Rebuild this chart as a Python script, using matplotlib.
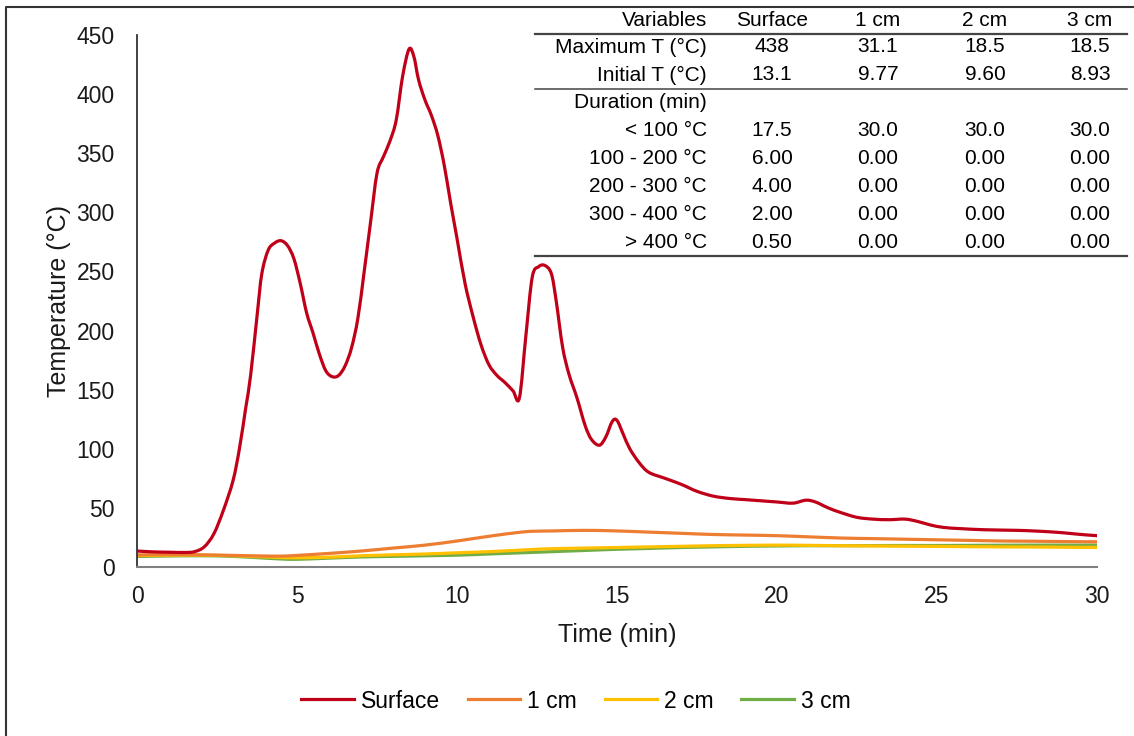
import matplotlib
matplotlib.use("Agg")
import matplotlib.pyplot as plt
import numpy as np
from matplotlib.lines import Line2D
from matplotlib.path import Path
from matplotlib.patches import PathPatch

plt.rcParams['font.family'] = ['Liberation Sans', 'DejaVu Sans']

# surface temperature
t_surf = [0, 0.5, 1.0, 1.5, 1.8, 2.1, 2.4, 2.7, 3.0, 3.2, 3.4, 3.55, 3.75, 3.9,
          4.1, 4.3, 4.5, 4.7, 4.9, 5.1, 5.3, 5.5, 5.7, 5.9, 6.1, 6.3, 6.5, 6.7,
          6.9, 7.1, 7.3, 7.5, 7.7, 7.9, 8.1, 8.3, 8.5, 8.65, 8.8, 9.0, 9.2, 9.4,
          9.6, 9.8, 10.0, 10.25, 10.5, 10.75, 11.0, 11.25, 11.5, 11.75, 11.95,
          12.15, 12.35, 12.55, 12.75, 12.95, 13.1, 13.3, 13.5, 13.75, 14.0, 14.2,
          14.45, 14.65, 14.85, 15.0, 15.2, 15.4, 15.7, 16.0, 16.5, 17.0, 17.5,
          18.0, 18.5, 19.0, 19.5, 20.0, 20.5, 20.9, 21.2, 21.6, 22.0, 22.5, 23.0,
          23.5, 24.0, 24.4, 24.8, 25.2, 25.7, 26.5, 27.5, 28.0, 28.5, 29.0, 29.5,
          30.0]
surface = [13.5, 12.8, 12.5, 12.3, 13, 17, 28, 48, 73, 100, 135, 162, 212, 248,
           268, 274, 276, 272, 261, 240, 215, 198, 180, 166, 161, 162, 170, 185,
           210, 250, 292, 333, 347, 360, 378, 415, 438, 432, 412, 395, 382, 365,
           340, 308, 278, 240, 212, 188, 171, 162, 156, 149, 143,
           195, 245, 254, 255, 248, 225, 186, 163, 143, 120, 108,
           103, 110, 123, 124, 112, 100, 88, 80, 75, 70, 64,
           60, 58, 57, 56, 55, 54, 56.5, 55, 50, 46, 42, 40.5,
           40, 40.5, 38.5, 35.5, 33.5, 32.5, 31.5, 31, 30.5, 29.8, 28.8, 27.5,
           26.5]

t_depth = [0, 1, 2, 3, 4, 4.5, 5, 6, 7, 8, 9, 10, 11, 12, 12.5, 13, 14, 15, 16,
           17, 18, 19, 20, 21, 22, 23, 24, 25, 26, 27, 28, 29, 30]
cm1 = [10.2, 10.5, 10.3, 9.8, 9.3, 9.2, 9.8, 11.5, 13.5, 16, 18.5, 22, 26, 29.5,
       30.3, 30.5, 31, 30.5, 29.5, 28.5, 27.5, 27, 26.5, 25.5, 24.5, 24, 23.5,
       23, 22.5, 22, 21.8, 21.5, 21.3]
cm2 = [9.6, 9.9, 10, 9.5, 8.5, 8, 7.8, 8.3, 9.5, 10.3, 11, 12, 13, 14.3, 15,
       15.5, 16, 16.5, 17, 17.5, 18, 18.3, 18.5, 18.3, 18, 17.8, 17.6, 17.4,
       17.2, 17, 16.9, 16.7, 16.5]
cm3 = [8.9, 9.3, 9.5, 9, 7.5, 6.8, 6.5, 7.5, 8.5, 9, 9.5, 10, 11, 12, 12.5, 13,
       14, 15, 15.7, 16.5, 17, 17.5, 17.8, 18, 18, 18.1, 18.2, 18.2, 18.3, 18.4,
       18.5, 18.5, 18.5]

series_names = ['Surface', '1 cm', '2 cm', '3 cm']
colors = ['#C00018', '#ED7D31', '#FFC000', '#70AD47']

row_labels = ['Maximum T (°C)', 'Initial T (°C)', 'Duration (min)', '< 100 °C',
              '100 - 200 °C', '200 - 300 °C', '300 - 400 °C', '> 400 °C']
table_vals = [
    ['438', '31.1', '18.5', '18.5'],
    ['13.1', '9.77', '9.60', '8.93'],
    ['', '', '', ''],
    ['17.5', '30.0', '30.0', '30.0'],
    ['6.00', '0.00', '0.00', '0.00'],
    ['4.00', '0.00', '0.00', '0.00'],
    ['2.00', '0.00', '0.00', '0.00'],
    ['0.50', '0.00', '0.00', '0.00'],
]


def smooth_line(ax, x, y, color, lw=2.3):
    # Excel-like smoothed line: bezier through the points
    p = np.column_stack([x, y]).astype(float)
    n = len(p)
    verts = [p[0]]
    codes = [Path.MOVETO]
    for i in range(n - 1):
        p0 = p[i - 1] if i > 0 else p[i]
        p3 = p[i + 2] if i + 2 < n else p[i + 1]
        c1 = p[i] + (p[i + 1] - p0) / 6
        c2 = p[i + 1] - (p3 - p[i]) / 6
        verts += [c1, c2, p[i + 1]]
        codes += [Path.CURVE4] * 3
    ax.add_patch(PathPatch(Path(verts, codes), fill=False, edgecolor=color,
                           lw=lw, capstyle='round', joinstyle='round'))


W, H = 1134, 736
fig = plt.figure(figsize=(W / 100, H / 100), dpi=100)
ax = fig.add_axes([137 / W, 1 - 567 / H, (1097 - 137) / W, (567 - 35) / H])

smooth_line(ax, t_depth, cm3, colors[3])
smooth_line(ax, t_depth, cm2, colors[2])
smooth_line(ax, t_depth, cm1, colors[1])
smooth_line(ax, t_surf, surface, colors[0])

ax.set_xlim(0, 30)
ax.set_ylim(0, 450)
ax.set_xticks(range(0, 31, 5))
ax.set_yticks(range(0, 451, 50))
ax.tick_params(axis='both', length=0, labelsize=16.5, colors='#1a1a1a')
ax.tick_params(axis='y', pad=16)
ax.tick_params(axis='x', pad=13)
for s in ['top', 'right']:
    ax.spines[s].set_visible(False)
ax.spines['left'].set_color('#333333')
ax.spines['left'].set_linewidth(1.3)
ax.spines['bottom'].set_color('#808080')
ax.spines['bottom'].set_linewidth(1.5)
ax.set_xlabel('Time (min)', fontsize=18, labelpad=11, color='#1a1a1a')
ax.set_ylabel('Temperature (°C)', fontsize=18, labelpad=4, color='#1a1a1a')

handles = [Line2D([], [], color=c, lw=2.3) for c in colors]
fig.legend(handles, series_names, loc='center',
           bbox_to_anchor=(576 / W, 1 - 701 / H), ncol=4, frameon=False,
           fontsize=16.5, handlelength=2.3, handletextpad=0.3, columnspacing=1.2)


# table in the top right
def fy(py):
    return 1 - py / H


col_x = [707, 772, 878, 985, 1090]
header = ['Variables'] + series_names
fig.text(col_x[0] / W, fy(20), header[0], ha='right', va='center', fontsize=15)
for j in range(1, 5):
    fig.text(col_x[j] / W, fy(20), header[j], ha='center', va='center', fontsize=15)
row_y = [47, 75, 103, 131, 159, 186, 214, 242]
for i, lab in enumerate(row_labels):
    fig.text(col_x[0] / W, fy(row_y[i]), lab, ha='right', va='center', fontsize=15)
    for j in range(4):
        fig.text(col_x[j + 1] / W, fy(row_y[i]), table_vals[i][j], ha='center',
                 va='center', fontsize=15)

for py, lw in [(34, 1.6), (89, 1.1), (256, 1.6)]:
    fig.add_artist(Line2D([535 / W, 1127 / W], [fy(py), fy(py)], color='#444444',
                          lw=lw))

# outer frame (left and top edges)
fig.add_artist(Line2D([6 / W, 6 / W, 1.0], [0.0, fy(7), fy(7)], color='#333333', lw=1.5))

fig.savefig('out.png', dpi=100)
